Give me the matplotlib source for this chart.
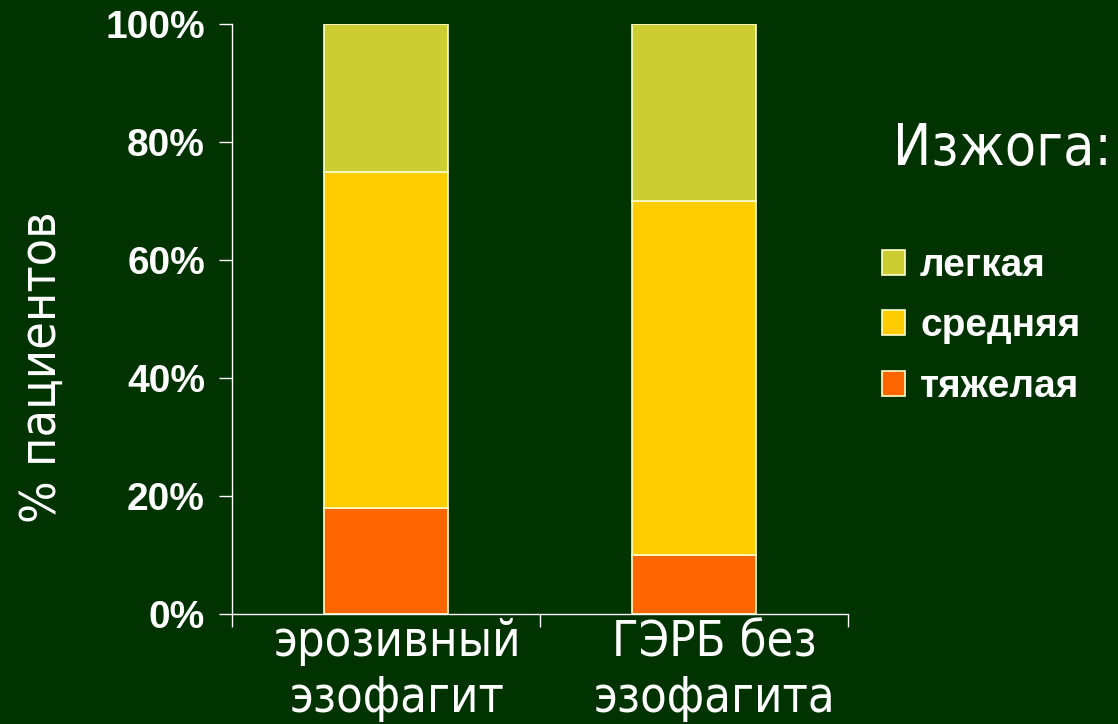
import matplotlib
matplotlib.use("Agg")
import matplotlib.pyplot as plt
from matplotlib import font_manager
from matplotlib.transforms import ScaledTranslation
import numpy as np

categories = ["эрозивный\nэзофагит", "ГЭРБ без\nэзофагита"]
series_names = ["тяжелая", "средняя", "легкая"]
heavy = [18, 10]
medium = [57, 60]
light = [25, 30]
yticks = [0, 20, 40, 60, 80, 100]
ytick_labels = ["0%", "20%", "40%", "60%", "80%", "100%"]
colors = ["#FF6600", "#FFCC00", "#CCCC33"]

# Tahoma-like narrow face if available
fp = font_manager.FontProperties(family="DejaVu Sans", stretch="condensed")
cond = "Condensed" in font_manager.findfont(fp, fallback_to_default=True)
if cond:
    tfont = dict(family="DejaVu Sans", stretch="condensed")
    sz_cat, sz_ylab, sz_title, ls_cat = 35, 36, 41, 1.2
else:
    tfont = dict(family="DejaVu Sans")
    sz_cat, sz_ylab, sz_title, ls_cat = 32, 32, 38, 1.3

BG = "#003300"
fig = plt.figure(figsize=(11.18, 7.24), dpi=100, facecolor=BG)
ax = fig.add_axes([232/1118, 1-614/724, (848-232)/1118, (614-24)/724])
ax.set_facecolor(BG)

x = np.arange(len(categories))
bottom = np.zeros(len(categories))
handles = []
for vals, name, c in zip([heavy, medium, light], series_names, colors):
    h = ax.bar(x, vals, width=0.4, bottom=bottom, color=c, edgecolor="#FFFFCC",
               linewidth=1.2, label=name)
    handles.append(h)
    bottom += np.array(vals)

ax.set_xlim(-0.5, len(categories) - 0.5)
ax.set_ylim(0, 100)
ax.set_yticks(yticks)
ax.set_yticklabels(ytick_labels, fontfamily="Liberation Sans", fontweight="bold",
                   fontsize=28, color="white")
ax.set_xticks(np.arange(len(categories) + 1) - 0.5)
ax.set_xticklabels([])
ax.set_xticks(x, minor=True)
ax.set_xticklabels(categories, minor=True, fontsize=sz_cat, color="white",
                   linespacing=ls_cat, **tfont)
ax.tick_params(axis="x", which="minor", length=0, pad=3)
ax.tick_params(axis="x", which="major", length=9.5, width=1, color="white")
ax.tick_params(axis="y", length=9.5, width=1, color="white", pad=10)
for s in ["top", "right"]:
    ax.spines[s].set_visible(False)
for s in ["left", "bottom"]:
    ax.spines[s].set_color("white")
    ax.spines[s].set_linewidth(1)

# the original labels sit slightly right of the bar centres
label_shift_px = [11, 20]
for lab, dx in zip(ax.get_xticklabels(minor=True), label_shift_px):
    lab.set_transform(lab.get_transform() + ScaledTranslation(dx / 100, 0, fig.dpi_scale_trans))

fig.text(42/1118, 1-367/724, "% пациентов", rotation=90, fontsize=sz_ylab,
         color="white", ha="center", va="center", **tfont)
fig.text(1002/1118, 1-165/724, "Изжога:", fontsize=sz_title,
         color="white", ha="center", va="baseline", **tfont)

leg = fig.legend(handles=handles[::-1], labels=series_names[::-1],
                 loc="upper left", bbox_to_anchor=(882/1118, 1-248/724),
                 frameon=False, borderpad=0, borderaxespad=0,
                 prop={"family": "Liberation Sans", "weight": "bold", "size": 28},
                 handlelength=0.6, handleheight=0.6, handletextpad=0.38,
                 labelspacing=0.63)
for t in leg.get_texts():
    t.set_color("white")

fig.savefig("out.png", dpi=100, facecolor=BG)
